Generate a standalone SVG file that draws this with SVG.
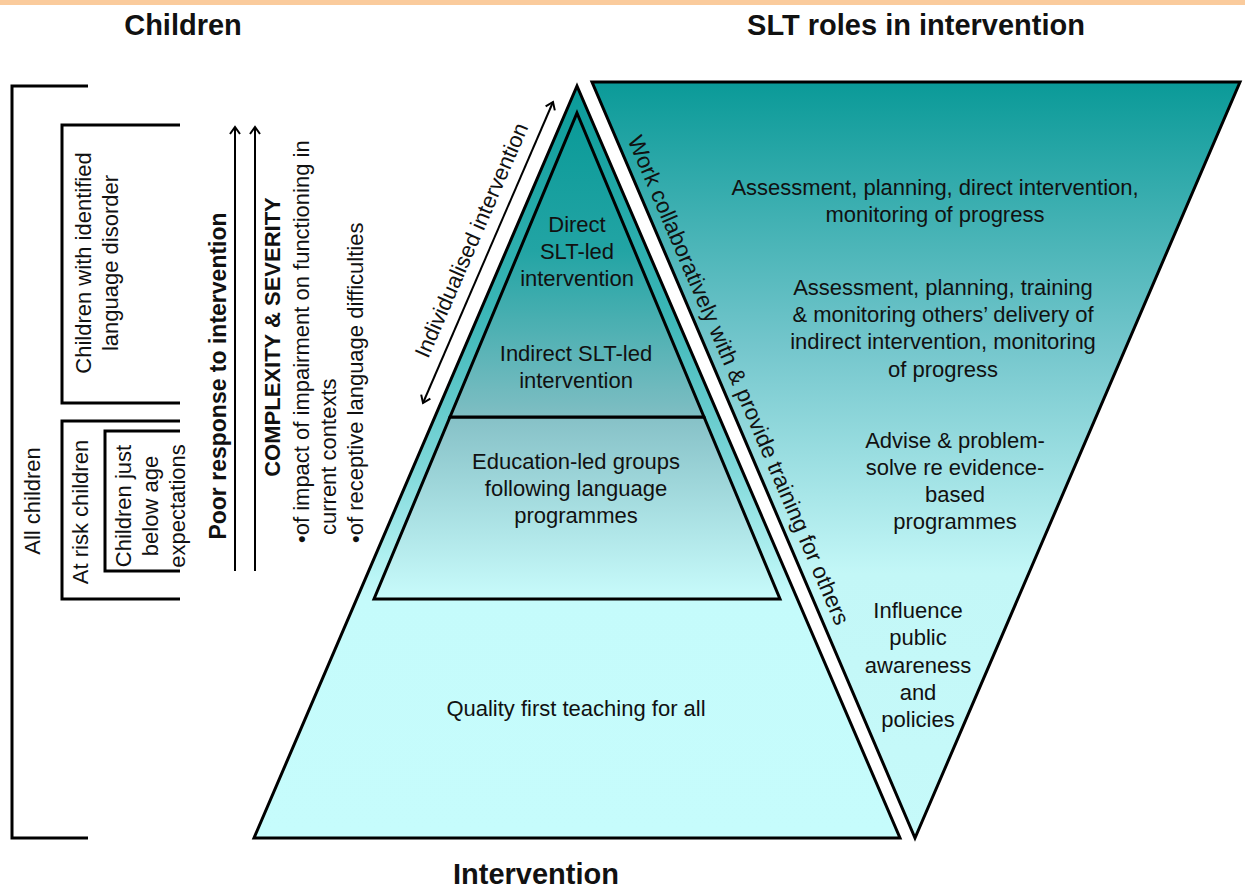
<svg xmlns="http://www.w3.org/2000/svg" width="1245" height="888" viewBox="0 0 1245 888">
<style>
text{font-family:"Liberation Sans",Arial,sans-serif;fill:#111;}
.t{font-size:22px;}
.tm{font-size:22px;text-anchor:middle;}
.h{font-size:29px;font-weight:bold;text-anchor:middle;}
.b{font-weight:bold;}
.br{fill:none;stroke:#000;stroke-width:3;}
.sh{stroke:#000;stroke-width:3;stroke-linejoin:miter;}
.ar{fill:none;stroke:#000;stroke-width:2;}
</style>
<defs>
<linearGradient id="gOuter" gradientUnits="userSpaceOnUse" x1="0" y1="86" x2="0" y2="838">
<stop offset="0" stop-color="#0A9A98"/>
<stop offset="0.3" stop-color="#3BB6B7"/>
<stop offset="0.5" stop-color="#7CD6D8"/>
<stop offset="0.68" stop-color="#C5FBFB"/>
<stop offset="1" stop-color="#C6FCFC"/>
</linearGradient>
<linearGradient id="gInnerTop" gradientUnits="userSpaceOnUse" x1="0" y1="113" x2="0" y2="417">
<stop offset="0" stop-color="#0A9A98"/>
<stop offset="0.45" stop-color="#22A4A4"/>
<stop offset="1" stop-color="#7FBEC3"/>
</linearGradient>
<linearGradient id="gEdu" gradientUnits="userSpaceOnUse" x1="0" y1="417" x2="0" y2="599">
<stop offset="0" stop-color="#86C1C7"/>
<stop offset="1" stop-color="#C8FBFB"/>
</linearGradient>
<linearGradient id="gInv" gradientUnits="userSpaceOnUse" x1="0" y1="82" x2="0" y2="838">
<stop offset="0" stop-color="#0A9A98"/>
<stop offset="0.35" stop-color="#74C6CC"/>
<stop offset="0.65" stop-color="#C3F7F7"/>
<stop offset="1" stop-color="#C6FAFA"/>
</linearGradient>
<marker id="ah" viewBox="-8 -8 16 16" markerWidth="16" markerHeight="16" refX="0" refY="0" orient="auto-start-reverse" markerUnits="userSpaceOnUse">
<path d="M-7,-5 L0,0 L-7,5" fill="none" stroke="#000" stroke-width="2"/>
</marker>
</defs>

<rect x="0" y="0" width="1245" height="5" fill="#FACB9C"/>

<g id="title-children"><text class="h" x="183" y="35">Children</text></g>
<g id="title-slt"><text class="h" x="916" y="35">SLT roles in intervention</text></g>
<g id="title-intervention"><text class="h" x="536" y="884">Intervention</text></g>

<g id="all-children">
<path class="br" d="M88,86 H12 V838 H88"/>
<text class="tm" transform="translate(40,501) rotate(-90)">All children</text>
</g>
<g id="identified-disorder">
<path class="br" d="M180,125 H62 V403 H180"/>
<text class="tm" transform="translate(91,263) rotate(-90)"><tspan x="0" y="0">Children with identified</tspan><tspan x="0" dy="27">language disorder</tspan></text>
</g>
<g id="at-risk">
<path class="br" d="M180,421 H62 V599 H180"/>
<text class="tm" transform="translate(88,512) rotate(-90)">At risk children</text>
</g>
<g id="below-age">
<path class="br" d="M180,431 H105 V571 H180"/>
<text class="tm" transform="translate(131,506) rotate(-90)"><tspan x="0" y="0">Children just</tspan><tspan x="0" dy="27">below age</tspan><tspan x="0" dy="27">expectations</tspan></text>
</g>
<g id="poor-response">
<text class="tm b" style="font-size:23px" transform="translate(226,376) rotate(-90)">Poor response to intervention</text>
</g>
<g id="complexity">
<text class="tm b" transform="translate(280,337) rotate(-90)">COMPLEXITY &amp; SEVERITY</text>
<text class="t" transform="translate(309,543) rotate(-90)"><tspan x="0" y="0">•of impact of impairment on functioning in</tspan><tspan x="8" dy="27">current contexts</tspan><tspan x="0" dy="27">•of receptive language difficulties</tspan></text>
</g>

<g id="quality-first">
<polygon class="sh" points="577,86 900,838 254,838" fill="url(#gOuter)"/>
<text class="tm" x="576" y="716">Quality first teaching for all</text>
</g>
<g id="education-led">
<polygon class="sh" points="450,417 704,417 780,599 374,599" fill="url(#gEdu)"/>
<text class="tm" x="576" y="469">Education-led groups</text>
<text class="tm" x="576" y="496">following language</text>
<text class="tm" x="576" y="523">programmes</text>
</g>
<g id="slt-led">
<polygon class="sh" points="577,113 704,417 450,417" fill="url(#gInnerTop)"/>
<text class="tm" x="577" y="232">Direct</text>
<text class="tm" x="577" y="259">SLT-led</text>
<text class="tm" x="577" y="286">intervention</text>
<text class="tm" x="576" y="361">Indirect SLT-led</text>
<text class="tm" x="576" y="388">intervention</text>
</g>

<g id="slt-roles">
<polygon class="sh" points="592,82 1240,82 915,838" fill="url(#gInv)"/>
<text class="tm" x="935" y="195">Assessment, planning, direct intervention,</text>
<text class="tm" x="935" y="222">monitoring of progress</text>
<text class="tm" x="943" y="295">Assessment, planning, training</text>
<text class="tm" x="943" y="322">&amp; monitoring others’ delivery of</text>
<text class="tm" x="943" y="349">indirect intervention, monitoring</text>
<text class="tm" x="943" y="377">of progress</text>
<text class="tm" x="955" y="448">Advise &amp; problem-</text>
<text class="tm" x="955" y="475">solve re evidence-</text>
<text class="tm" x="955" y="502">based</text>
<text class="tm" x="955" y="529">programmes</text>
<text class="tm" x="918" y="618">Influence</text>
<text class="tm" x="918" y="645">public</text>
<text class="tm" x="918" y="673">awareness</text>
<text class="tm" x="918" y="700">and</text>
<text class="tm" x="918" y="727">policies</text>
</g>
<g id="work-collab">
<text class="tm" style="font-size:22.5px" transform="translate(739,380) rotate(66.8)" y="8">Work collaboratively with &amp; provide training for others</text>
</g>

<g id="connectors">
<line class="ar" x1="235" y1="571" x2="235" y2="127" marker-end="url(#ah)"/>
<line class="ar" x1="255" y1="571" x2="255" y2="127" marker-end="url(#ah)"/>
<line class="ar" x1="423" y1="403" x2="553" y2="102" marker-start="url(#ah)" marker-end="url(#ah)"/>
</g>
<g id="individualised">
<text class="tm" transform="translate(471,240) rotate(-66.6)" y="8">Individualised intervention</text>
</g>
</svg>
